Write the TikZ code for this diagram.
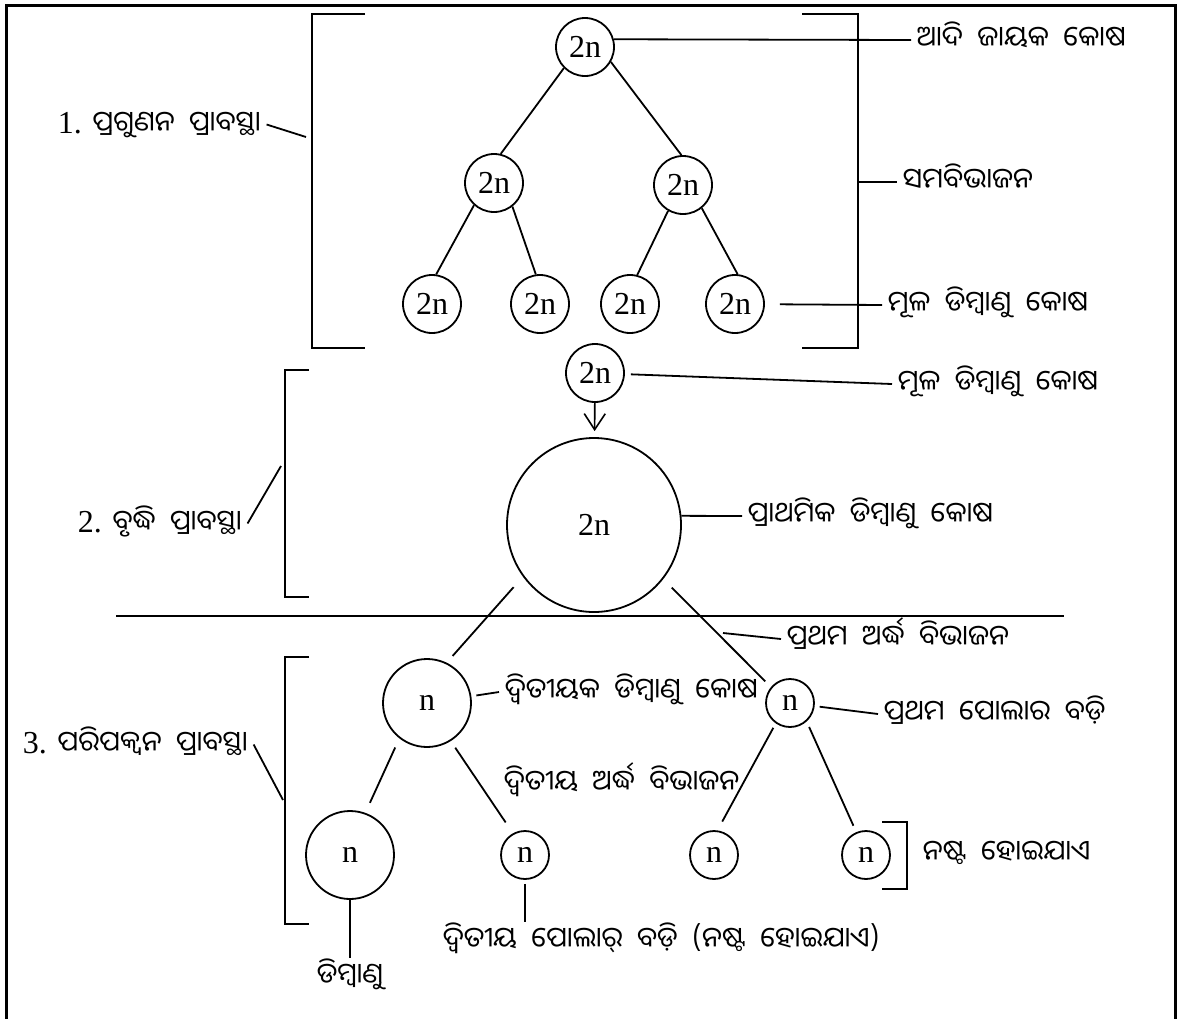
\documentclass[tikz,border=0pt]{standalone}
\usepackage{fontspec}
\setmainfont{Liberation Serif}
\newfontfamily\odia[Script=Oriya, WordSpace=2.0]{Noto Sans Oriya UI}
\newcommand{\orx}{\odia\fontsize{28}{32}\selectfont}
\usetikzlibrary{positioning, arrows.meta}

\begin{document}
\begin{tikzpicture}[x=1pt, y=-1pt, line width=1.8pt,
    cell/.style={draw, circle, inner sep=0pt, minimum size=#1, font=\fontsize{32}{32}\selectfont},
    cell/.default=58pt,
    lab/.style={anchor=west, inner sep=5pt, text height=22pt, text depth=5pt, font=\orx},
    stage/.style={lab, anchor=base west, font=\fontsize{32}{36}\selectfont},
    brk/.style={line width=2.4pt}]
    \useasboundingbox (0,0) rectangle (1178,1018);
    % frame
    \draw[line width=3pt] (6,1025) -- (6,5) -- (1175,5) -- (1175,1025);

    % 1. multiplication phase
    \node[cell] (r0) at (585,47) {2n};
    \node[cell] (m1) at (494,183) {2n};
    \node[cell] (m2) at (683,185) {2n};
    \node[cell] (l1) at (432,304) {2n};
    \node[cell] (l2) at (540,304) {2n};
    \node[cell] (l3) at (630,304) {2n};
    \node[cell] (l4) at (735,304) {2n};
    \draw (r0.225) -- (m1.77) (r0.330) -- (m2.93);
    \draw (m1.228) -- (l1.82) (m1.308) -- (l2.98);
    \draw (m2.240) -- (l3.76) (m2.309) -- (l4.85);
    \draw[brk] (365,14) -- (312,14) -- (312,348) -- (365,348);
    \draw[brk] (802,14) -- (858,14) -- (858,348) -- (802,348);
    \node[stage] (st1) at (52,133) {1. {\orx ପ୍ରଗୁଣନ ପ୍ରାବସ୍ଥା}};
    \coordinate (k1) at (306,137);
    \draw (st1.east) -- (k1);
    \node[lab] (adi) at (911,40) {ଆଦି ଜାୟକ କୋଷ};
    \draw (r0.15) -- (adi.west);
    \coordinate (sb) at (858,182);
    \node[lab] (sama) at (897,182) {ସମବିଭାଜନ};
    \draw (sb) -- (sama.west);
    \node[lab] (mula1) at (882,305) {ମୂଳ ଡିମ୍ବାଣୁ କୋଷ};
    \draw[shorten <=15pt] (l4) -- (mula1.west);

    % 2. growth phase
    \node[cell] (s0) at (595,373) {2n};
    \node[cell=174pt] (big) at (594,525) {2n};
    \draw[-{Straight Barb[length=16pt,width=21pt]}, line width=1.6pt, shorten >=6pt] (s0) -- (big);
    \node[lab] (mula2) at (892,384) {ମୂଳ ଡିମ୍ବାଣୁ କୋଷ};
    \draw[shorten <=6pt] (s0) -- (mula2.west);
    \node[lab] (prath) at (742,516) {ପ୍ରାଥମିକ ଡିମ୍ବାଣୁ କୋଷ};
    \draw (big.6) -- (prath.west);
    \draw[brk] (309,370) -- (285,370) -- (285,597) -- (309,597);
    \node[stage] (st2) at (72,532) {2. {\orx ବୃଦ୍ଧି ପ୍ରାବସ୍ଥା}};
    \coordinate (k2) at (281,466);
    \draw (st2.east) -- (k2);
    \draw (116,616) -- (1064,616);

    % 3. maturation phase
    \node[cell=88pt] (a) at (427,703) {n};
    \node[cell=48pt] (b) at (790,703) {n};
    \node[cell=88pt] (c) at (350,855) {n};
    \node[cell=48pt] (d) at (525,855) {n};
    \node[cell=48pt] (e) at (714,855) {n};
    \node[cell=48pt] (f) at (866,855) {n};
    \draw[shorten <=14pt, shorten >=9pt] (big.216) -- (a.64);
    \draw[shorten <=12pt, shorten >=8pt] (big.322) -- (b.140);
    \draw[shorten <=10pt, shorten >=11pt] (a.232) -- (c.70);
    \draw[shorten <=8pt, shorten >=13pt] (a.302) -- (d.119);
    \draw[shorten <=5pt, shorten >=10pt] (b.235) -- (e.82);
    \draw[shorten <=6pt, shorten >=7pt] (b.312) -- (f.113);
    \coordinate (ax) at (723,633);
    \node[lab] (ardha1) at (781,639) {ପ୍ରଥମ ଅର୍ଦ୍ଧ ବିଭାଜନ};
    \draw (ax) -- (ardha1.west);
    \node[lab] (dwik) at (499,692) {ଦ୍ୱିତୀୟକ ଡିମ୍ବାଣୁ କୋଷ};
    \draw[shorten <=5pt] (a) -- (dwik.west);
    \node[lab] (pol1) at (878,714) {ପ୍ରଥମ ପୋଲାର ବଡ଼ି};
    \draw[shorten <=5pt] (b) -- (pol1.west);
    \node[lab] (ardha2) at (498,784) {ଦ୍ୱିତୀୟ ଅର୍ଦ୍ଧ ବିଭାଜନ};
    \draw[brk] (882,822) -- (907,822) -- (907,889) -- (882,889);
    \node[lab] (nasta) at (917,854) {ନଷ୍ଟ ହୋଇଯାଏ};
    \node[lab, anchor=north] (egg) [below=58pt of c] {ଡିମ୍ବାଣୁ};
    \draw (c) -- (egg);
    \node[lab, anchor=north west] (pol2) at (437,922) {ଦ୍ୱିତୀୟ ପୋଲାର୍ ବଡ଼ି (ନଷ୍ଟ ହୋଇଯାଏ)};
    \draw[shorten <=4pt] (d) -- (d |- pol2.north);
    \draw[brk] (309,657) -- (285,657) -- (285,924) -- (309,924);
    \node[stage] (st3) at (17,753) {3. {\orx ପରିପକ୍ୱନ ପ୍ରାବସ୍ଥା}};
    \coordinate (k3) at (283,800);
    \draw (st3.east) -- (k3);
\end{tikzpicture}
\end{document}
